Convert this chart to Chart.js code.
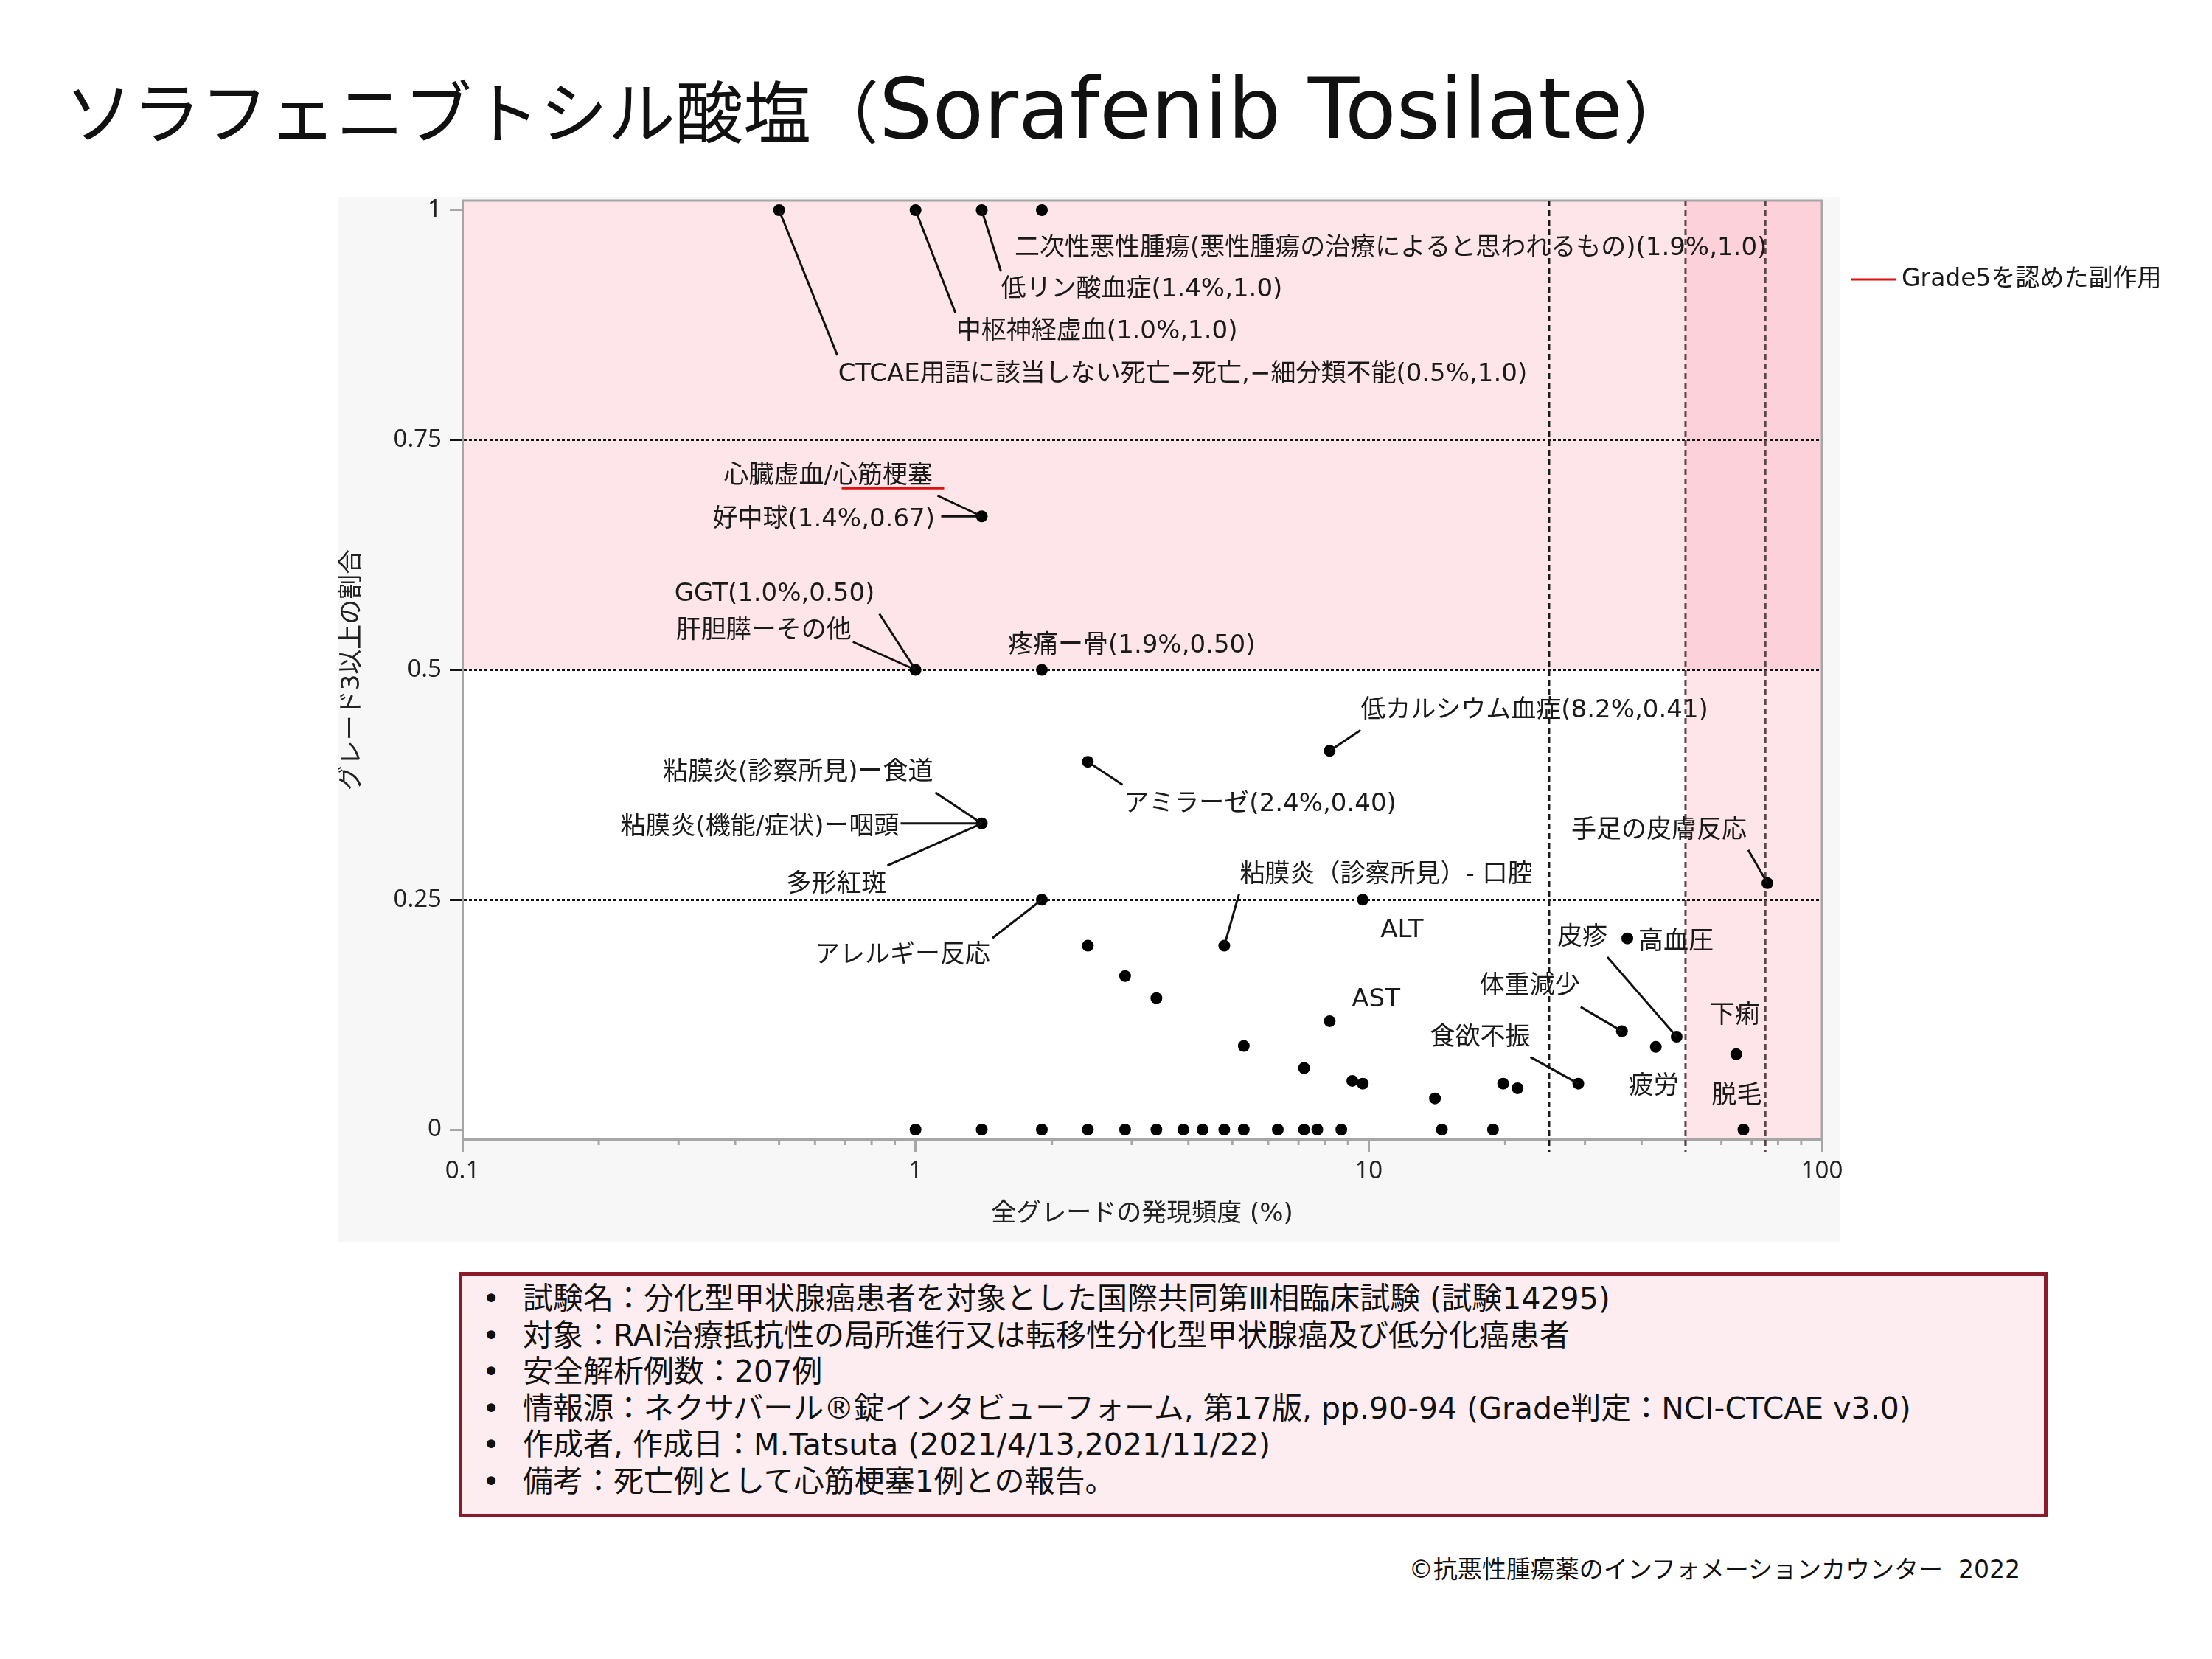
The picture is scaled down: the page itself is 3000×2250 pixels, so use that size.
<!DOCTYPE html>
<html lang="ja">
<head>
<meta charset="utf-8">
<script src="https://cdn.jsdelivr.net/npm/chart.js@4.4.1/dist/chart.umd.min.js"></script>
<style>
html, body { margin:0; padding:0; background:#fff; }
body { width:3000px; height:2250px; position:relative; overflow:hidden; font-family:"DejaVu Sans", "Noto Sans CJK JP", sans-serif; color:#111; }
#aeChart { position:absolute; left:0; top:0; }
#title { position:absolute; left:88px; top:91px; font-size:92px; line-height:1; white-space:nowrap; font-family:"Noto Sans CJK JP", sans-serif; }
#title .lat { font-family:"DejaVu Sans", sans-serif; font-size:114px; }
#info { position:absolute; left:622px; top:1725px; width:2155px; height:333px; box-sizing:border-box;
        border:5px solid #8b1a2b; background:#fdedf0; padding-top:7px; }
#info div { position:relative; padding-left:82px; font-size:41px; line-height:49.5px; white-space:nowrap; }
#info div::before { content:"•"; position:absolute; left:27px; }
#copy { position:absolute; right:260px; top:2112px; font-size:33px; line-height:1; white-space:nowrap; }
</style>
</head>
<body>
<canvas id="aeChart" width="3000" height="1720"></canvas>
<div id="title">ソラフェニブトシル酸塩（<span class="lat">Sorafenib Tosilate</span>）</div>
<div id="info">
  <div>試験名：分化型甲状腺癌患者を対象とした国際共同第Ⅲ相臨床試験 (試験14295)</div>
  <div>対象：RAI治療抵抗性の局所進行又は転移性分化型甲状腺癌及び低分化癌患者</div>
  <div>安全解析例数：207例</div>
  <div>情報源：ネクサバール®錠インタビューフォーム, 第17版, pp.90-94 (Grade判定：NCI-CTCAE v3.0)</div>
  <div>作成者, 作成日：M.Tatsuta (2021/4/13,2021/11/22)</div>
  <div>備考：死亡例として心筋梗塞1例との報告。</div>
</div>
<div id="copy">©抗悪性腫瘍薬のインフォメーションカウンター&nbsp;&nbsp;2022</div>
<script>
// all-grade frequency (%) and share of grade>=3 among them, one entry per adverse event
var freqPct = [0.5, 1.0, 1.4, 1.9, 1.4, 1.0, 1.9, 8.2, 2.4, 1.4, 75.8, 1.9, 9.7, 2.4, 4.8, 37.2,
               2.9, 3.4, 8.2, 36.2, 47.8, 5.3, 43.0, 64.7, 7.2, 9.2, 9.7, 29.0, 14.0, 19.8, 21.3,
               1.0, 1.4, 1.9, 2.4, 2.9, 3.4, 3.9, 4.3, 4.8, 5.3, 6.3, 7.2, 7.7, 8.7, 14.5, 18.8, 67.1];
var grade3Ratio = [1, 1, 1, 1, 0.667, 0.5, 0.5, 0.412, 0.40, 0.333, 0.268, 0.25, 0.25, 0.20, 0.20, 0.208,
                   0.167, 0.143, 0.118, 0.107, 0.101, 0.091, 0.09, 0.082, 0.067, 0.053, 0.05, 0.05, 0.034, 0.05, 0.045,
                   0, 0, 0, 0, 0, 0, 0, 0, 0, 0, 0, 0, 0, 0, 0, 0, 0];

var xTicks = [0.1, 1, 10, 100];
var xTickLabels = ['0.1', '1', '10', '100'];
var yTicks = [0, 0.25, 0.5, 0.75, 1];
var yTickLabels = ['0', '0.25', '0.5', '0.75', '1'];
var yRefLines = [0.25, 0.5, 0.75];
var xRefLines = [25, 50, 75];
var grade5Legend = 'Grade5を認めた副作用';

// labels: i = point index, dx/dy = text anchor offset from the point (px), lx/ly = leader end
var notes = [
  {i:0, text:'CTCAE用語に該当しない死亡−死亡,−細分類不能(0.5%,1.0)', dx:80, dy:219, align:'left', lx:79, ly:197},
  {i:1, text:'中枢神経虚血(1.0%,1.0)', dx:55, dy:161, align:'left', lx:54, ly:139},
  {i:2, text:'低リン酸血症(1.4%,1.0)', dx:26, dy:104, align:'left', lx:26, ly:83},
  {i:3, text:'二次性悪性腫瘍(悪性腫瘍の治療によると思われるもの)(1.9%,1.0)', dx:-37, dy:48, align:'left'},
  {i:4, text:'心臓虚血/心筋梗塞', dx:-350, dy:-58, align:'left', lx:-60, ly:-28, red:[-190, -51, -38]},
  {i:4, text:'好中球(1.4%,0.67)', dx:-365, dy:1, align:'left', lx:-55, ly:0},
  {i:5, text:'GGT(1.0%,0.50)', dx:-327, dy:-106, align:'left', lx:-49, ly:-76},
  {i:5, text:'肝胆膵ーその他', dx:-325, dy:-56, align:'left', lx:-85, ly:-38},
  {i:6, text:'疼痛ー骨(1.9%,0.50)', dx:-46, dy:-36, align:'left'},
  {i:7, text:'低カルシウム血症(8.2%,0.41)', dx:42, dy:-58, align:'left', lx:42, ly:-28},
  {i:8, text:'アミラーゼ(2.4%,0.40)', dx:49, dy:54, align:'left', lx:47, ly:31},
  {i:9, text:'粘膜炎(診察所見)ー食道', dx:-66, dy:-73, align:'right', lx:-63, ly:-42},
  {i:9, text:'粘膜炎(機能/症状)ー咽頭', dx:-112, dy:1, align:'right', lx:-110, ly:0},
  {i:9, text:'多形紅斑', dx:-197, dy:79, align:'center', lx:-128, ly:57},
  {i:10, text:'手足の皮膚反応', dx:-28, dy:-75, align:'right', lx:-26, ly:-45},
  {i:11, text:'アレルギー反応', dx:-70, dy:72, align:'right', lx:-67, ly:52},
  {i:12, text:'ALT', dx:24, dy:38, align:'left'},
  {i:14, text:'粘膜炎（診察所見）- 口腔', dx:21, dy:-99, align:'left', lx:20, ly:-70},
  {i:15, text:'皮疹', dx:-95, dy:-4, align:'left'},
  {i:15, text:'高血圧', dx:15, dy:2, align:'left'},
  {i:20, text:'', lx:-94, ly:-108},
  {i:18, text:'AST', dx:30, dy:-33, align:'left'},
  {i:19, text:'体重減少', dx:-193, dy:-64, align:'left', lx:-56, ly:-33},
  {i:27, text:'食欲不振', dx:-201, dy:-66, align:'left', lx:-65, ly:-36},
  {i:22, text:'疲労', dx:-37, dy:50, align:'left'},
  {i:23, text:'下痢', dx:-36, dy:-56, align:'left'},
  {i:47, text:'脱毛', dx:-43, dy:-49, align:'left'}
];

var LABEL_FONT = '34px "DejaVu Sans", "Noto Sans CJK JP"';
var TEXT_NUDGE = 4;   // DejaVu's middle baseline sits a bit high
var AXIS_GREY = '#a6a6a6';

var points = [];
for (var k = 0; k < freqPct.length; k++) points.push({x: freqPct[k], y: grade3Ratio[k]});

var backdrop = {
  id: 'backdrop',
  beforeDraw: function(chart) {
    var c = chart.ctx, a = chart.chartArea, xs = chart.scales.x, ys = chart.scales.y;
    c.save();
    c.fillStyle = '#f7f7f7';
    c.fillRect(458, 267, 2495 - 458, 1685 - 267);
    c.fillStyle = '#ffffff';
    c.fillRect(a.left, a.top, a.right - a.left, a.bottom - a.top);
    var yHalf = ys.getPixelForValue(0.5), x50 = xs.getPixelForValue(50);
    c.fillStyle = '#fde5e9';
    c.fillRect(a.left, a.top, a.right - a.left, yHalf - a.top);
    c.fillRect(x50, a.top, a.right - x50, a.bottom - a.top);
    c.fillStyle = '#fcd1d9';
    c.fillRect(x50, a.top, a.right - x50, yHalf - a.top);
    c.restore();
  },
  beforeDatasetsDraw: function(chart) {
    var c = chart.ctx, a = chart.chartArea, xs = chart.scales.x;
    c.save();
    // frame top/right
    c.strokeStyle = AXIS_GREY; c.lineWidth = 3;
    c.beginPath();
    c.moveTo(a.left, a.top); c.lineTo(a.right, a.top); c.lineTo(a.right, a.bottom);
    c.stroke();
    // minor ticks on log axis
    for (var d = 0.1; d < 100; d *= 10) {
      for (var m = 2; m <= 9; m++) {
        var px = xs.getPixelForValue(m * d);
        c.beginPath(); c.moveTo(px, a.bottom); c.lineTo(px, a.bottom + 8); c.stroke();
      }
    }
    // vertical reference lines
    c.setLineDash([8, 5]);
    xRefLines.forEach(function(v, j) {
      var px = xs.getPixelForValue(v);
      c.strokeStyle = j === 0 ? '#1a1a1a' : '#5a4548';
      c.beginPath(); c.moveTo(px, a.top); c.lineTo(px, a.bottom + 17); c.stroke();
    });
    c.restore();
  },
  afterDatasetsDraw: function(chart) {
    var c = chart.ctx, a = chart.chartArea, xs = chart.scales.x, ys = chart.scales.y;
    c.save();
    c.lineWidth = 3;
    c.strokeStyle = '#111';
    c.fillStyle = '#1a1a1a';
    c.font = LABEL_FONT;
    c.textBaseline = 'middle';
    notes.forEach(function(n) {
      var px = xs.getPixelForValue(freqPct[n.i]);
      var py = ys.getPixelForValue(grade3Ratio[n.i]);
      if (n.lx !== undefined) {
        c.beginPath(); c.moveTo(px, py); c.lineTo(px + n.lx, py + n.ly); c.stroke();
      }
      if (n.text) {
        c.textAlign = n.align;
        c.fillText(n.text, px + n.dx, py + n.dy + TEXT_NUDGE);
      }
      if (n.red) {
        c.save();
        c.strokeStyle = '#e01010';
        c.beginPath(); c.moveTo(px + n.red[0], py + n.red[2]); c.lineTo(px + n.red[1], py + n.red[2]); c.stroke();
        c.restore();
      }
    });
    // Grade5 legend, right of the plot
    var ly = a.top + 107;
    c.strokeStyle = '#e01010';
    c.beginPath(); c.moveTo(a.right + 39, ly); c.lineTo(a.right + 101, ly); c.stroke();
    c.textAlign = 'left';
    c.font = '33px "DejaVu Sans", "Noto Sans CJK JP"';
    c.fillText(grade5Legend, a.right + 108, ly);
    c.restore();
  }
};

var ctx = document.getElementById('aeChart');
var theChart = new Chart(ctx, {
  type: 'scatter',
  data: {
    datasets: [{
      data: points,
      pointRadius: 8,
      pointHoverRadius: 8,
      pointBackgroundColor: '#000',
      pointBorderWidth: 0,
      clip: false
    }]
  },
  options: {
    responsive: false,
    devicePixelRatio: 1,
    animation: false,
    events: [],
    layout: { padding: {left: 458, right: 529, top: 272, bottom: 35} },
    plugins: { legend: {display: false}, tooltip: {enabled: false} },
    scales: {
      x: {
        type: 'logarithmic',
        min: 0.1,
        max: 100,
        afterFit: function(s) { s.height = 140; },
        afterBuildTicks: function(s) { s.ticks = xTicks.map(function(v) { return {value: v}; }); },
        ticks: {
          autoSkip: false, maxRotation: 0, padding: 7,
          color: '#222',
          font: {family: 'Noto Sans', size: 33},
          callback: function(v, i) { return xTickLabels[i]; }
        },
        grid: { drawOnChartArea: false, tickLength: 17, tickWidth: 3, tickColor: AXIS_GREY },
        border: { color: AXIS_GREY, width: 3 },
        title: {
          display: true, text: '全グレードの発現頻度 (%)', color: '#222',
          font: {family: '"DejaVu Sans", "Noto Sans CJK JP"', size: 34}, padding: {top: 0, bottom: 17}
        }
      },
      y: {
        min: -0.0104,
        max: 1.0104,
        afterFit: function(s) { s.width = 169; },
        afterBuildTicks: function(s) { s.ticks = yTicks.map(function(v) { return {value: v}; }); },
        ticks: {
          padding: 11,
          color: '#222',
          font: {family: 'Noto Sans', size: 33},
          callback: function(v, i) { return yTickLabels[i]; }
        },
        grid: {
          lineWidth: 3,
          color: function(c) { return (c.tick && yRefLines.indexOf(c.tick.value) >= 0) ? '#111' : 'rgba(0,0,0,0)'; },
          tickLength: 17,
          tickWidth: 3,
          tickColor: function(c) { return (c.tick && yRefLines.indexOf(c.tick.value) >= 0) ? '#111' : AXIS_GREY; }
        },
        border: { color: AXIS_GREY, width: 3, dash: [4, 3] },
        title: {
          display: true, text: 'グレード3以上の割合', color: '#222',
          font: {family: '"DejaVu Sans", "Noto Sans CJK JP"', size: 34}, padding: {top: 0, bottom: 0}
        }
      }
    }
  },
  plugins: [backdrop]
});
</script>
</body>
</html>
